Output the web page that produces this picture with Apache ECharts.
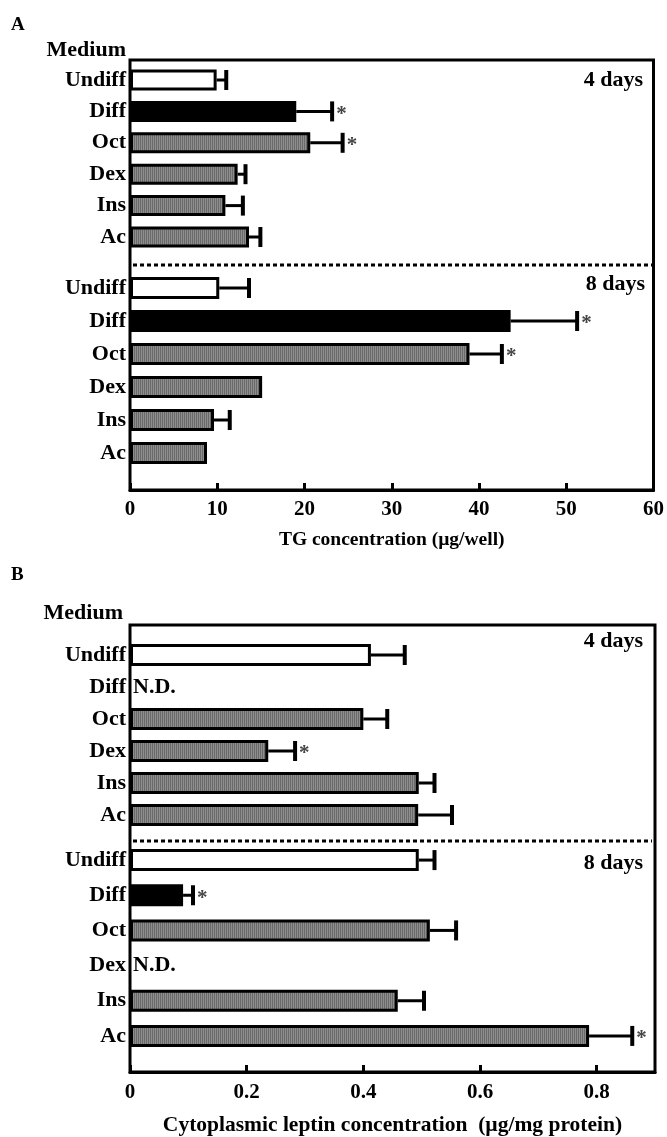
<!DOCTYPE html>
<html>
<head>
<meta charset="utf-8">
<script src="https://cdn.jsdelivr.net/npm/echarts@6/dist/echarts.min.js"></script>
<style>
html,body{margin:0;padding:0;background:#fff;}
#chart{width:667px;height:1137px;}
</style>
</head>
<body>
<div id="chart"></div>
<script>
// ---- data ----
const media = ['Undiff','Diff','Oct','Dex','Ins','Ac'];
// Panel A: TG concentration (µg/well)
const tgMean4 = [9.9, 19.0, 20.6, 12.3, 10.9, 13.6];
const tgErr4  = [1.1, 4.1, 3.7, 0.9, 2.0, 1.3];
const tgSig4  = [0, 1, 1, 0, 0, 0];
const tgMean8 = [10.2, 43.5, 38.8, 15.1, 9.6, 8.8];
const tgErr8  = [3.4, 7.6, 3.7, 0, 1.8, 0];
const tgSig8  = [0, 1, 1, 0, 0, 0];
// Panel B: cytoplasmic leptin (µg/mg protein); null = N.D.
const lepMean4 = [0.413, null, 0.400, 0.237, 0.495, 0.494];
const lepErr4  = [0.058, 0, 0.041, 0.046, 0.027, 0.058];
const lepSig4  = [0, 0, 0, 1, 0, 0];
const lepMean8 = [0.495, 0.091, 0.514, null, 0.459, 0.787];
const lepErr8  = [0.027, 0.017, 0.045, 0, 0.045, 0.074];
const lepSig8  = [0, 1, 0, 0, 0, 1];
const tgTicks = {min: 0, max: 60, interval: 10};
const lepTicks = {min: 0, max: 0.9, interval: 0.2};

// ---- styles ----
const FONT = 'Liberation Serif';
function stripes(){
  const c = document.createElement('canvas');
  c.width = 2; c.height = 2;
  const ctx = c.getContext('2d');
  ctx.fillStyle = '#6a6a6a'; ctx.fillRect(0,0,1,2);
  ctx.fillStyle = '#8e8e8e'; ctx.fillRect(1,0,1,2);
  return {image: c, repeat: 'repeat'};
}
const grey = stripes();
function fillFor(name){
  if (name === 'Undiff') return '#ffffff';
  if (name === 'Diff') return '#000000';
  return grey;
}

function barData(means){
  return means.map((v,i) => (v == null) ? '-' : {value: v, itemStyle: {color: fillFor(media[i])}});
}
function errData(means, errs, sig){
  return means.map((v,i) => {
    const nd = (v == null) ? 1 : 0;
    return [nd ? 0 : v, i, errs[i] || 0, sig[i], nd];
  });
}
function errRender(params, api){
  const v = api.value(0), idx = api.value(1), e = api.value(2), s = api.value(3), nd = api.value(4);
  const children = [];
  const p0 = api.coord([v, idx]);
  if (nd) {
    children.push({type:'text', style:{text:'N.D.', x:p0[0]+3, y:p0[1], textVerticalAlign:'middle', font:'bold 22px "'+FONT+'"', fill:'#000'}});
    return {type:'group', children};
  }
  const p1 = api.coord([v + e, idx]);
  const capH = 20;
  if (e > 0) {
    children.push({type:'line', shape:{x1:p0[0], y1:p0[1], x2:p1[0], y2:p1[1]}, style:{stroke:'#000', lineWidth:3}});
    children.push({type:'rect', shape:{x:p1[0]-2, y:p1[1]-capH/2, width:4, height:capH}, style:{fill:'#000'}});
  }
  if (s) {
    children.push({type:'text', style:{text:'*', x:p1[0]+4, y:p1[1]+3, textVerticalAlign:'middle', font:'bold 21px "'+FONT+'"', fill:'#444'}});
  }
  return {type:'group', children};
}

const L = 130, R = 12;
const layout = {
  A: {frame:{top:60, height:430}, d4:{top:64.3, height:188.4}, d8:{top:271.5, height:198}, sep:265},
  B: {frame:{top:625, height:447}, d4:{top:639, height:192}, d8:{top:842.5, height:211}, sep:841}
};

function frameGrid(g){ return {left:L, right:R, top:g.top, height:g.height, show:true, borderColor:'#000', borderWidth:3, containLabel:false}; }
function barGrid(g){ return {left:L, right:R, top:g.top, height:g.height, containLabel:false}; }
function shownX(gi, t, name, labelMargin, nameGap, nameSize){
  return {gridIndex:gi, type:'value', min:t.min, max:t.max, interval:t.interval,
    axisLine:{show:true, lineStyle:{color:'#000', width:3}},
    axisTick:{show:true, inside:true, length:7, lineStyle:{color:'#000', width:3}},
    splitLine:{show:false},
    axisLabel:{color:'#000', fontFamily:FONT, fontWeight:'bold', fontSize:21, margin:labelMargin, showMaxLabel: t.max % t.interval === 0},
    name:name, nameLocation:'middle', nameGap:nameGap,
    nameTextStyle:{color:'#000', fontFamily:FONT, fontWeight:'bold', fontSize:nameSize}};
}
function hiddenX(gi, t){ return {gridIndex:gi, type:'value', min:t.min, max:t.max, show:false}; }
function catY(gi){
  return {gridIndex:gi, type:'category', inverse:true, data:media,
    axisLine:{show:false}, axisTick:{show:false}, splitLine:{show:false},
    axisLabel:{interval:0, color:'#000', fontFamily:FONT, fontWeight:'bold', fontSize:22, margin:4}};
}
function blockSeries(ai, means, errs, sig, bw){
  return [
    {type:'bar', xAxisIndex:ai, yAxisIndex:ai, barWidth:bw, data:barData(means),
      itemStyle:{borderColor:'#000', borderWidth:3}, z:2},
    {type:'custom', xAxisIndex:ai, yAxisIndex:ai, renderItem:errRender, data:errData(means, errs, sig), z:3}
  ];
}
const T = (txt, x, y, size, align) => ({type:'text', x:x, y:y, style:{text:txt, font:'bold '+size+'px "'+FONT+'"', fill:'#000', textAlign:align||'left', textVerticalAlign:'middle'}});
const sepLine = (y) => ({type:'line', shape:{x1:L+3, y1:y, x2:667-R-3, y2:y}, style:{stroke:'#000', lineWidth:3, lineDash:[4,3]}, z:5});

const option = {
  animation:false,
  backgroundColor:'#fff',
  grid:[frameGrid(layout.A.frame), barGrid(layout.A.d4), barGrid(layout.A.d8),
        frameGrid(layout.B.frame), barGrid(layout.B.d4), barGrid(layout.B.d8)],
  xAxis:[
    shownX(0, tgTicks, 'TG concentration (\u00b5g/well)', 9, 40, 19.5),
    hiddenX(1, tgTicks), hiddenX(2, tgTicks),
    shownX(3, lepTicks, 'Cytoplasmic leptin concentration  (\u00b5g/mg protein)', 10, 42, 21.5),
    hiddenX(4, lepTicks), hiddenX(5, lepTicks)
  ],
  yAxis:[
    {gridIndex:0, type:'value', show:false}, catY(1), catY(2),
    {gridIndex:3, type:'value', show:false}, catY(4), catY(5)
  ],
  series:[].concat(
    blockSeries(1, tgMean4, tgErr4, tgSig4, 21),
    blockSeries(2, tgMean8, tgErr8, tgSig8, 22),
    blockSeries(4, lepMean4, lepErr4, lepSig4, 22),
    blockSeries(5, lepMean8, lepErr8, lepSig8, 22)
  ),
  graphic:[
    T('A', 11, 25, 19),
    T('Medium', 126, 50, 22, 'right'),
    T('4 days', 643, 80, 22, 'right'),
    T('8 days', 645, 284, 22, 'right'),
    sepLine(layout.A.sep),
    T('B', 11, 575, 19),
    T('Medium', 123, 613, 22, 'right'),
    T('4 days', 643, 641, 22, 'right'),
    T('8 days', 643, 863, 22, 'right'),
    sepLine(layout.B.sep)
  ]
};
const chart = echarts.init(document.getElementById('chart'), null, {renderer:'canvas'});
chart.setOption(option);
</script>
</body>
</html>
